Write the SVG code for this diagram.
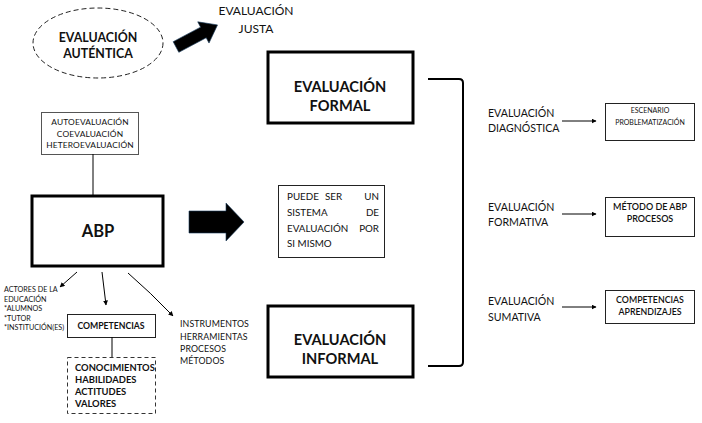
<svg xmlns="http://www.w3.org/2000/svg" width="702" height="423" viewBox="0 0 702 423">
<defs>
<marker id="ah" viewBox="0 0 10 10" refX="9" refY="5" markerWidth="5" markerHeight="5" orient="auto" markerUnits="userSpaceOnUse">
<path d="M0,0 L10,5 L0,10 z" fill="#000"/>
</marker>
<style>
text{font-family:Lato,"Liberation Sans",sans-serif;fill:#111}
.b{font-weight:bold}
.c{text-anchor:middle}
.e{text-anchor:end}
.thick{fill:#fff;stroke:#000;stroke-width:3}
.thin{fill:#fff;stroke:#222;stroke-width:1}
.ln{fill:none;stroke:#000;stroke-width:1}
.ar{fill:none;stroke:#000;stroke-width:1;marker-end:url(#ah)}
.blk{fill:#000;stroke:#1a3a5a;stroke-width:0.6}
</style>
</defs>
<rect width="702" height="423" fill="#fff"/>

<g id="autentica">
<ellipse cx="98" cy="43" rx="65" ry="35" fill="#fff" stroke="#222" stroke-width="1" stroke-dasharray="5 3"/>
<text class="b c" x="98" y="42" font-size="12.4">EVALUACIÓN</text>
<text class="b c" x="98" y="58" font-size="12.4">AUTÉNTICA</text>
</g>

<g id="justa">
<text class="c" x="256" y="15" font-size="12">EVALUACIÓN</text>
<text class="c" x="256" y="33" font-size="12">JUSTA</text>
</g>

<g id="formal">
<rect class="thick" x="268" y="52" width="145" height="71"/>
<text class="b c" x="340" y="92" font-size="14.6">EVALUACIÓN</text>
<text class="b c" x="340" y="111" font-size="14.6">FORMAL</text>
</g>

<g id="informal">
<rect class="thick" x="268" y="306" width="145" height="71"/>
<text class="b c" x="340" y="345" font-size="14.6">EVALUACIÓN</text>
<text class="b c" x="340" y="364" font-size="14.6">INFORMAL</text>
</g>

<g id="puede">
<rect class="thin" x="278.5" y="185.5" width="106" height="72"/>
<g font-size="9.8">
<text x="287" y="200">PUEDE</text><text x="325" y="200">SER</text><text class="e" x="379" y="200">UN</text>
<text x="287" y="216">SISTEMA</text><text class="e" x="379" y="216">DE</text>
<text x="287" y="232">EVALUACIÓN</text><text class="e" x="379" y="232">POR</text>
<text x="287" y="247">SI MISMO</text>
</g>
</g>

<g id="auto">
<rect x="41.5" y="112.5" width="97" height="42" fill="#fff" stroke="#555" stroke-width="1"/>
<g font-size="8.4" letter-spacing="0.15">
<text class="c" x="90" y="125">AUTOEVALUACIÓN</text>
<text class="c" x="90" y="136.5">COEVALUACIÓN</text>
<text class="c" x="90" y="148">HETEROEVALUACIÓN</text>
</g>
</g>

<g id="abp">
<rect class="thick" x="32" y="196" width="131" height="70"/>
<text class="b c" x="98" y="237" font-size="16.5">ABP</text>
</g>

<g id="actores">
<g font-size="7.2">
<text x="4" y="292">ACTORES DE  LA</text>
<text x="4" y="301.5">EDUCACIÓN</text>
<text x="4" y="311">*ALUMNOS</text>
<text x="4" y="320.5">*TUTOR</text>
<text x="4" y="330">*INSTITUCIÓN(ES)</text>
</g>
</g>

<g id="competencias">
<rect class="thin" x="67.5" y="314.5" width="88" height="23"/>
<text class="b c" x="111" y="329" font-size="8.7">COMPETENCIAS</text>
</g>

<g id="conocimientos">
<rect x="67.5" y="357.5" width="88" height="56" fill="#fff" stroke="#333" stroke-width="1" stroke-dasharray="4 3"/>
<g font-size="9.4" class="b">
<text x="75" y="371">CONOCIMIENTOS</text>
<text x="75" y="383">HABILIDADES</text>
<text x="75" y="395">ACTITUDES</text>
<text x="75" y="407">VALORES</text>
</g>
</g>

<g id="instrumentos">
<g font-size="8.8" letter-spacing="0.1">
<text x="180" y="327">INSTRUMENTOS</text>
<text x="180" y="339.5">HERRAMIENTAS</text>
<text x="180" y="351.5">PROCESOS</text>
<text x="180" y="363.5">MÉTODOS</text>
</g>
</g>

<g id="diagnostica">
<text x="488" y="117" font-size="10.6">EVALUACIÓN</text>
<text x="488" y="132" font-size="10.6">DIAGNÓSTICA</text>
</g>
<g id="formativa">
<text x="488" y="211" font-size="10.6">EVALUACIÓN</text>
<text x="488" y="226" font-size="10.6">FORMATIVA</text>
</g>
<g id="sumativa">
<text x="488" y="305" font-size="10.6">EVALUACIÓN</text>
<text x="488" y="321" font-size="10.6">SUMATIVA</text>
</g>

<g id="escenario">
<rect class="thin" x="605.5" y="103.5" width="89" height="37"/>
<text class="c" x="650" y="112.5" font-size="7">ESCENARIO</text>
<text class="c" x="650" y="124.5" font-size="7">PROBLEMATIZACIÓN</text>
</g>
<g id="metodo">
<rect class="thin" x="605.5" y="197.5" width="89" height="39"/>
<text class="c" x="650" y="210" font-size="9" font-weight="600">MÉTODO DE ABP</text>
<text class="c" x="650" y="221.5" font-size="9" font-weight="600">PROCESOS</text>
</g>
<g id="comp2">
<rect class="thin" x="605.5" y="290.5" width="89" height="33"/>
<text class="c" x="650" y="303" font-size="8.8" font-weight="600">COMPETENCIAS</text>
<text class="c" x="650" y="315" font-size="8.8" font-weight="600">APRENDIZAJES</text>
</g>

<g id="connectors">
<polygon class="blk" points="0,-6 31,-6 31,-12 47,0 31,12 31,6 0,6" transform="translate(176,47) rotate(-28)"/>
<polygon class="blk" points="189,211 226,211 226,203 244,222 226,241 226,233 189,233"/>
<line class="ln" x1="93" y1="154" x2="93" y2="196"/>
<line class="ar" x1="77" y1="272" x2="60" y2="287"/>
<line class="ar" x1="102" y1="272" x2="106" y2="305"/>
<path class="ar" d="M128,273 Q150,292 173,316"/>
<line class="ln" x1="112" y1="337" x2="112" y2="357"/>
<path d="M428,79 L459,79 Q463,79 463,83 L463,362 Q463,366 459,366 L428,366" fill="none" stroke="#000" stroke-width="2"/>
<line class="ar" x1="562" y1="121" x2="596" y2="121"/>
<line class="ar" x1="562" y1="214" x2="596" y2="214"/>
<line class="ar" x1="562" y1="307" x2="596" y2="307"/>
</g>
</svg>
